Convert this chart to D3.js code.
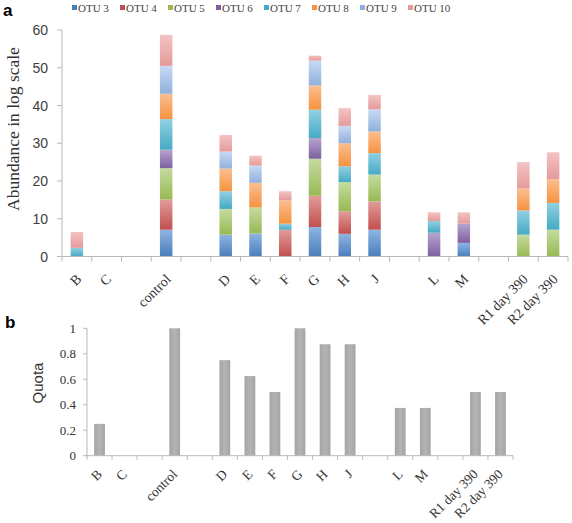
<!DOCTYPE html>
<html><head><meta charset="utf-8">
<script src="https://cdn.jsdelivr.net/npm/d3@7"></script>
<style>body{margin:0;background:#fff}svg{display:block}</style>
</head><body>
<svg id="c" width="572" height="523"></svg>
<script>
const categories = ["B","C","","control","","D","E","F","G","H","J","","L","M","","R1 day 390","R2 day 390"];
const otuNames = ["OTU 3","OTU 4","OTU 5","OTU 6","OTU 7","OTU 8","OTU 9","OTU 10"];
const otu3  = [0,0,0,7.1,0,5.8,6.1,0,7.8,6.0,7.1,0,0,3.6,0,0,0];
const otu4  = [0,0,0,8.0,0,0,0,7.1,8.3,6.0,7.5,0,0,0,0,0,0];
const otu5  = [0,0,0,8.3,0,6.8,6.9,0,9.8,7.7,7.1,0,0,0,0,5.8,7.1];
const otu6  = [0,0,0,4.9,0,0,0,0,5.5,0,0,0,6.3,5.1,0,0,0];
const otu7  = [2.3,0,0,8.1,0,4.7,0,1.6,7.5,4.2,5.7,0,3.1,0,0,6.4,7.1];
const otu8  = [0,0,0,6.7,0,6.0,6.5,6.2,6.4,6.1,5.7,0,0,0,0,5.8,6.3];
const otu9  = [0,0,0,7.4,0,4.5,4.6,0,6.6,4.6,5.9,0,0,0,0,0,0];
const otu10 = [4.2,0,0,8.2,0,4.4,2.6,2.4,1.3,4.7,3.8,0,2.3,3.0,0,7.0,7.1];
const quota = [0.25,0,0,1,0,0.75,0.625,0.5,1,0.875,0.875,0,0.375,0.375,0,0.5,0.5];
const topTicks = [0,10,20,30,40,50,60];
const bottomTicks = [0,0.2,0.4,0.6,0.8,1];

const series = [otu3,otu4,otu5,otu6,otu7,otu8,otu9,otu10];
const colorsDark  = ["#4a7ebb","#c0504d","#98b954","#7d60a0","#46aac5","#f69240","#8fb0dc","#e59a9a"];
const colorsLight = ["#8fb4e3","#e29c9a","#c5dba0","#b6a5cc","#92d0e0","#fbbf8f","#c9daf3","#f4c3c3"];

const svg = d3.select("#c");
const defs = svg.append("defs");
colorsDark.forEach((c,i)=>{
  const g = defs.append("linearGradient").attr("id","g"+i).attr("x1",0).attr("y1",0).attr("x2",0).attr("y2",1);
  g.append("stop").attr("offset","0%").attr("stop-color",colorsLight[i]);
  g.append("stop").attr("offset","100%").attr("stop-color",c);
});
const gg = defs.append("linearGradient").attr("id","gray").attr("x1",0).attr("y1",0).attr("x2",1).attr("y2",0);
gg.append("stop").attr("offset","0%").attr("stop-color","#a4a4a4");
gg.append("stop").attr("offset","50%").attr("stop-color","#b4b4b4");
gg.append("stop").attr("offset","100%").attr("stop-color","#a4a4a4");

const axisColor = "#b8b8b8";
const idx = d3.range(categories.length);

// ---------- Chart a ----------
const xA = d3.scaleBand().domain(idx).range([62,568]).paddingInner(0.58).paddingOuter(0.29);
const yA = d3.scaleLinear().domain([0,60]).range([256.5,30]);
const rows = idx.map(i=>{const o={i}; series.forEach((s,k)=>o["k"+k]=s[i]); return o;});
const stack = d3.stack().keys(series.map((s,k)=>"k"+k))(rows);

const gA = svg.append("g");
stack.forEach((layer,k)=>{
  gA.append("g").attr("fill","url(#g"+k+")").selectAll("rect").data(layer.filter(d=>d[1]-d[0]>0)).join("rect")
    .attr("x",d=>xA(d.data.i)).attr("width",xA.bandwidth())
    .attr("y",d=>yA(d[1])).attr("height",d=>yA(d[0])-yA(d[1]));
});
// y axis a
gA.append("line").attr("x1",62).attr("x2",62).attr("y1",yA(60)).attr("y2",yA(0)).attr("stroke",axisColor);
gA.selectAll(".yt").data(topTicks).join("line").attr("x1",57).attr("x2",62)
  .attr("y1",d=>yA(d)).attr("y2",d=>yA(d)).attr("stroke",axisColor);
gA.selectAll(".yl").data(topTicks).join("text").attr("x",48).attr("y",d=>yA(d)).attr("dy","0.36em")
  .attr("text-anchor","end").attr("font-family","Liberation Sans, Arial, sans-serif").attr("font-size",14).attr("fill","#404040").text(d=>d);
// x axis a
const stepA = xA.step();
gA.append("line").attr("x1",62).attr("x2",568).attr("y1",yA(0)).attr("y2",yA(0)).attr("stroke",axisColor);
gA.selectAll(".xt").data(d3.range(categories.length+1)).join("line")
  .attr("x1",d=>62+d*stepA).attr("x2",d=>62+d*stepA).attr("y1",yA(0)).attr("y2",yA(0)+5).attr("stroke",axisColor);
gA.selectAll(".xl").data(idx.filter(i=>categories[i])).join("text")
  .attr("transform",i=>`translate(${xA(i)+xA.bandwidth()/2+2},${yA(0)+20}) rotate(-45)`)
  .attr("text-anchor","end").attr("dy","0.35em")
  .attr("font-family","Liberation Serif, Times New Roman, serif").attr("font-size",14).attr("fill","#333").text(i=>categories[i]);
svg.append("text").attr("transform","translate(19,129) rotate(-90)").attr("text-anchor","middle")
  .attr("font-family","Liberation Serif, Times New Roman, serif").attr("font-size",17.5).attr("fill","#333").text("Abundance in log scale");
svg.append("text").attr("x",3).attr("y",16).attr("font-family","Liberation Sans, Arial, sans-serif")
  .attr("font-weight","bold").attr("font-size",17).text("a");

// legend
const leg = svg.append("g");
otuNames.forEach((n,k)=>{
  const lx = 72 + k*48;
  leg.append("rect").attr("x",lx).attr("y",5).attr("width",5).attr("height",5).attr("fill",colorsDark[k]);
  leg.append("text").attr("x",lx+6).attr("y",8).attr("dy","0.35em").attr("font-family","Liberation Serif, Times New Roman, serif")
    .attr("font-size",11).attr("fill","#444").text(n);
});

// ---------- Chart b ----------
const xB = d3.scaleBand().domain(idx).range([87,513]).paddingInner(0.57).paddingOuter(0.285);
const yB = d3.scaleLinear().domain([0,1]).range([455.7,328.3]);
const gB = svg.append("g");
gB.selectAll("rect").data(idx.filter(i=>quota[i]>0)).join("rect")
  .attr("x",i=>xB(i)).attr("width",xB.bandwidth()).attr("y",i=>yB(quota[i])).attr("height",i=>yB(0)-yB(quota[i]))
  .attr("fill","url(#gray)");
gB.append("line").attr("x1",87).attr("x2",87).attr("y1",yB(1)).attr("y2",yB(0)).attr("stroke",axisColor);
gB.selectAll(".yt").data(bottomTicks).join("line").attr("x1",83).attr("x2",87)
  .attr("y1",d=>yB(d)).attr("y2",d=>yB(d)).attr("stroke",axisColor);
gB.selectAll(".yl").data(bottomTicks).join("text").attr("x",76).attr("y",d=>yB(d)).attr("dy","0.36em")
  .attr("text-anchor","end").attr("font-family","Liberation Serif, Times New Roman, serif").attr("font-size",13).attr("fill","#333").text(d=>d);
const stepB = xB.step();
gB.append("line").attr("x1",87).attr("x2",513).attr("y1",yB(0)).attr("y2",yB(0)).attr("stroke",axisColor);
gB.selectAll(".xt").data(d3.range(categories.length+1)).join("line")
  .attr("x1",d=>87+d*stepB).attr("x2",d=>87+d*stepB).attr("y1",yB(0)).attr("y2",yB(0)+4).attr("stroke",axisColor);
gB.selectAll(".xl").data(idx.filter(i=>categories[i])).join("text")
  .attr("transform",i=>`translate(${xB(i)+xB.bandwidth()/2},${yB(0)+16}) rotate(-45)`)
  .attr("text-anchor","end").attr("dy","0.35em")
  .attr("font-family","Liberation Serif, Times New Roman, serif").attr("font-size",13.5).attr("fill","#333").text(i=>categories[i]);
svg.append("text").attr("transform","translate(43,383) rotate(-90)").attr("text-anchor","middle")
  .attr("font-family","Liberation Sans, Arial, sans-serif").attr("font-size",15).attr("fill","#333").text("Quota");
svg.append("text").attr("x",5).attr("y",328).attr("font-family","Liberation Sans, Arial, sans-serif")
  .attr("font-weight","bold").attr("font-size",17).text("b");
</script>
</body></html>
